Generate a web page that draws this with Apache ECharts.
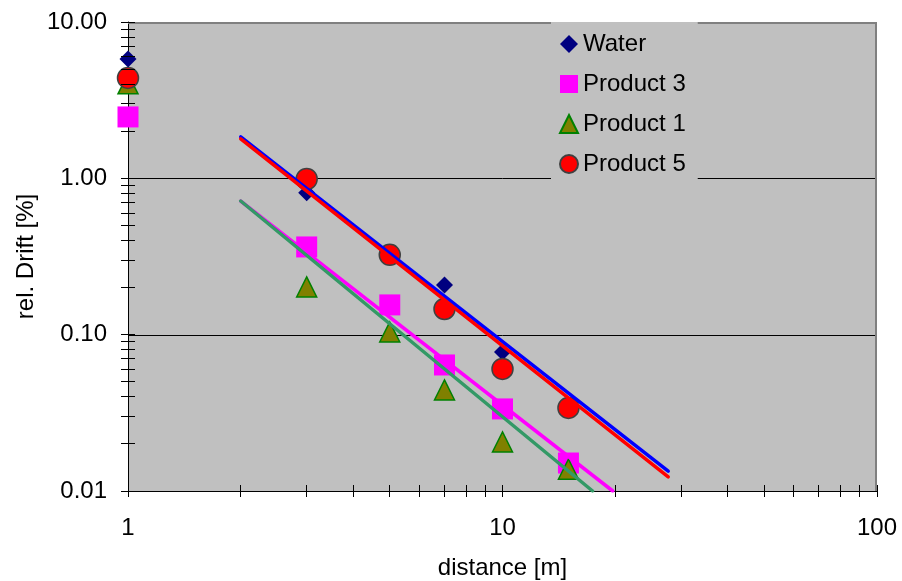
<!DOCTYPE html>
<html>
<head>
<meta charset="utf-8">
<title>rel. Drift vs distance</title>
<script src="https://cdn.jsdelivr.net/npm/echarts@6/dist/echarts.min.js"></script>
<style>
  html, body { margin: 0; padding: 0; background: #ffffff; }
  #chart { width: 902px; height: 581px; }
</style>
</head>
<body>
<div id="chart"></div>
<script>
// Measured drift values per distance
const distances = [1, 3, 5, 7, 10, 15];
const water    = [5.8, 0.81, 0.32, 0.208, 0.0774, 0.035];
const product3 = [2.47, 0.364, 0.155, 0.064, 0.0335, 0.0151];
const product1 = [4.02, 0.202, 0.104, 0.0443, 0.0206, 0.0138];
const product5 = [4.39, 0.99, 0.324, 0.146, 0.0604, 0.034];

// Power-law trend lines (start and end points)
const waterTrend    = [[2, 1.84], [27.7, 0.0134]];
const product3Trend = [[2, 0.716], [19.7, 0.01]];
const product1Trend = [[2, 0.716], [17.4, 0.01]];
const product5Trend = [[2, 1.79], [27.7, 0.0123]];

// Axis ranges, ticks and gridlines
const xMin = 1, xMax = 100;
const yMin = 0.01, yMax = 10;
const xTickValues = [1, 2, 3, 4, 5, 6, 7, 8, 9, 10, 20, 30, 40, 50, 60, 70, 80, 90, 100];
const yTickValues = [0.01, 0.02, 0.03, 0.04, 0.05, 0.06, 0.07, 0.08, 0.09,
                     0.1, 0.2, 0.3, 0.4, 0.5, 0.6, 0.7, 0.8, 0.9,
                     1, 2, 3, 4, 5, 6, 7, 8, 9, 10];
const yGridValues = [0.1, 1];

const FONT = 'Liberation Sans, Arial, sans-serif';
const FS = 24;
const crisp = v => Math.round(v) + 0.5;

function pairs(xs, ys) { return xs.map((x, i) => [x, ys[i]]); }

const chart = echarts.init(document.getElementById('chart'), null, { renderer: 'canvas' });

const option = {
  backgroundColor: '#ffffff',
  animation: false,
  textStyle: { fontFamily: FONT },
  grid: {
    left: 128, right: 25, top: 22, bottom: 90,
    containLabel: false, outerBoundsMode: 'none',
    show: true, backgroundColor: '#c0c0c0', borderWidth: 0
  },
  legend: {
    data: ['Water', 'Product 3', 'Product 1', 'Product 5'],
    orient: 'vertical',
    left: 551, top: 22,
    padding: [10, 12, 6, 8],
    itemGap: 16,
    itemWidth: 18, itemHeight: 18,
    itemTextGap: 7,
    backgroundColor: '#c0c0c0',
    textStyle: { fontSize: FS, color: '#000', fontFamily: FONT, lineHeight: 24 }
  },
  xAxis: {
    type: 'log', logBase: 10, min: xMin, max: xMax,
    name: 'distance [m]', nameLocation: 'middle', nameGap: 65,
    nameMoveOverlap: false,
    nameTextStyle: { fontSize: FS, color: '#000', fontFamily: FONT },
    axisLine: { show: true, lineStyle: { color: '#000', width: 1 } },
    axisTick: { show: false },
    splitLine: { show: false },
    axisLabel: { fontSize: FS, color: '#000', margin: 25, fontFamily: FONT,
                 formatter: v => String(Math.round(v)) }
  },
  yAxis: {
    type: 'log', logBase: 10, min: yMin, max: yMax,
    name: 'rel. Drift [%]', nameLocation: 'middle', nameGap: 90,
    nameMoveOverlap: false,
    nameTextStyle: { fontSize: FS, color: '#000', fontFamily: FONT },
    axisLine: { show: true, lineStyle: { color: '#000', width: 1 } },
    axisTick: { show: false },
    splitLine: { show: false },
    axisLabel: { fontSize: FS, color: '#000', margin: 21, fontFamily: FONT,
                 formatter: v => Number(v).toFixed(2) }
  },
  series: [
    // horizontal gridlines at the inner decades
    {
      type: 'custom', name: 'grid', silent: true, z: 1,
      data: yGridValues.map(v => [xMin, v]),
      renderItem(params, api) {
        const a = api.coord([xMin, api.value(1)]);
        const b = api.coord([xMax, api.value(1)]);
        const y = crisp(a[1]);
        return { type: 'line', shape: { x1: a[0], y1: y, x2: b[0], y2: y },
                 style: { stroke: '#000', lineWidth: 1 } };
      }
    },
    // top and right frame of the plot area
    {
      type: 'custom', name: 'frame', silent: true, z: 1,
      data: [[xMax, yMax]],
      renderItem(params, api) {
        const tl = api.coord([xMin, yMax]);
        const tr = api.coord([xMax, yMax]);
        const br = api.coord([xMax, yMin]);
        return { type: 'polyline',
                 shape: { points: [[tl[0], tr[1] + 1], [tr[0] - 1, tr[1] + 1], [br[0] - 1, br[1]]] },
                 style: { stroke: '#808080', lineWidth: 2, fill: null } };
      }
    },
    // tick marks crossing the x axis
    {
      type: 'custom', name: 'xticks', silent: true, z: 5, clip: false,
      data: xTickValues.map(v => [v, yMin]),
      renderItem(params, api) {
        const p = api.coord([api.value(0), api.value(1)]);
        const x = crisp(p[0] - 0.5);
        return { type: 'line', shape: { x1: x, y1: p[1] - 6, x2: x, y2: p[1] + 6 },
                 style: { stroke: '#000', lineWidth: 1 } };
      }
    },
    // tick marks crossing the y axis
    {
      type: 'custom', name: 'yticks', silent: true, z: 5, clip: false,
      data: yTickValues.map(v => [xMin, v]),
      renderItem(params, api) {
        const p = api.coord([api.value(0), api.value(1)]);
        const y = crisp(p[1] - 0.5);
        return { type: 'line', shape: { x1: p[0] - 7, y1: y, x2: p[0] + 7, y2: y },
                 style: { stroke: '#000', lineWidth: 1 } };
      }
    },
    {
      name: 'Water', type: 'scatter', z: 2,
      symbol: 'diamond', symbolSize: 17,
      itemStyle: { color: '#000080', opacity: 1 },
      data: pairs(distances, water)
    },
    {
      name: 'Product 3', type: 'scatter', z: 2,
      symbol: 'rect', symbolSize: 21,
      itemStyle: { color: '#ff00ff', opacity: 1 },
      data: pairs(distances, product3)
    },
    {
      name: 'Product 1', type: 'scatter', z: 2,
      symbol: 'triangle', symbolSize: 20,
      itemStyle: { color: '#808000', borderColor: '#008000', borderWidth: 1.5, opacity: 1 },
      data: pairs(distances, product1)
    },
    {
      name: 'Product 5', type: 'scatter', z: 2,
      symbol: 'circle', symbolSize: 21,
      itemStyle: { color: '#ff0000', borderColor: '#404040', borderWidth: 1.5, opacity: 1 },
      data: pairs(distances, product5)
    },
    {
      name: 'Water trend', type: 'line', z: 3, silent: true, showSymbol: false,
      lineStyle: { color: '#0000ff', width: 3.5, cap: 'round' },
      data: waterTrend
    },
    {
      name: 'Product 3 trend', type: 'line', z: 3, silent: true, showSymbol: false,
      lineStyle: { color: '#ff00ff', width: 3.5, cap: 'round' },
      data: product3Trend
    },
    {
      name: 'Product 1 trend', type: 'line', z: 3, silent: true, showSymbol: false,
      lineStyle: { color: '#339966', width: 3.5, cap: 'round' },
      data: product1Trend
    },
    {
      name: 'Product 5 trend', type: 'line', z: 3, silent: true, showSymbol: false,
      lineStyle: { color: '#ff0000', width: 3.5, cap: 'round' },
      data: product5Trend
    }
  ]
};

chart.setOption(option);
</script>
</body>
</html>
